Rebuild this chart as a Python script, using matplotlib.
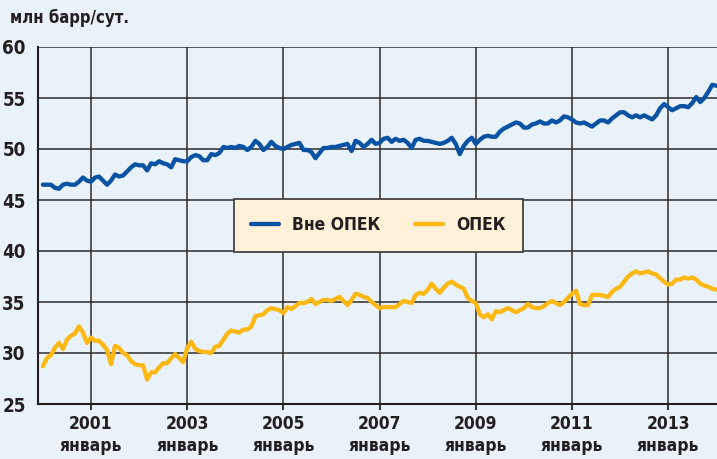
import numpy as np
import matplotlib
matplotlib.use("Agg")
import matplotlib.pyplot as plt

# monthly data, Jan 2000 .. Jan 2014, mln bbl/day
non_opec = [
    46.5, 46.5, 46.5, 46.2, 46.1, 46.5, 46.6, 46.5, 46.5, 46.8, 47.2, 46.9,
    46.8, 47.2, 47.3, 46.9, 46.5, 46.9, 47.5, 47.3, 47.4, 47.8, 48.2, 48.5,
    48.4, 48.4, 47.9, 48.6, 48.5, 48.8, 48.6, 48.5, 48.2, 49.0, 48.9, 48.8,
    48.8, 49.2, 49.4, 49.3, 48.9, 48.9, 49.5, 49.4, 49.6, 50.2, 50.1, 50.2,
    50.1, 50.3, 50.2, 49.9, 50.2, 50.8, 50.5, 49.9, 50.2, 50.7, 50.3, 50.1,
    50.0, 50.2, 50.4, 50.5, 50.6, 49.9, 49.9, 49.7, 49.1, 49.6, 50.1, 50.1,
    50.2, 50.2, 50.3, 50.4, 50.5, 49.8, 50.8, 50.6, 50.2, 50.5, 50.9, 50.5,
    50.6, 51.0, 51.1, 50.7, 51.0, 50.8, 50.9, 50.6, 50.1, 50.9, 51.0, 50.8,
    50.8, 50.7, 50.6, 50.5, 50.6, 50.8, 51.1, 50.5, 49.5, 50.3, 50.8, 51.1,
    50.5, 50.9, 51.2, 51.3, 51.2, 51.2, 51.7, 52.0, 52.2, 52.4, 52.6, 52.5,
    52.1, 52.1, 52.4, 52.5, 52.7, 52.5, 52.5, 52.8, 52.6, 52.8, 53.2, 53.1,
    52.9, 52.6, 52.5, 52.6, 52.4, 52.2, 52.5, 52.8, 52.8, 52.6, 53.0, 53.3,
    53.6, 53.6, 53.3, 53.1, 53.3, 53.1, 53.3, 53.1, 52.9, 53.3, 54.0, 54.4,
    54.1, 53.8, 54.0, 54.2, 54.2, 54.1, 54.5, 55.1, 54.6, 55.0, 55.6, 56.3,
    56.2,
]
opec = [
    28.7, 29.5, 29.8, 30.5, 31.0, 30.4, 31.3, 31.7, 31.9, 32.6, 32.0, 31.0,
    31.5, 31.2, 31.2, 30.8, 30.3, 28.9, 30.7, 30.5, 30.0, 29.8, 29.2, 28.9,
    28.8, 28.8, 27.4, 28.1, 28.1, 28.6, 29.0, 29.0, 29.5, 29.9, 29.5, 29.1,
    30.5, 31.1, 30.4, 30.2, 30.1, 30.1, 30.0, 30.6, 30.7, 31.3, 31.9, 32.2,
    32.1, 32.0, 32.3, 32.3, 32.6, 33.6, 33.7, 33.8, 34.2, 34.4, 34.3, 34.2,
    33.9, 34.5, 34.3, 34.6, 34.9, 34.9, 35.0, 35.3, 34.8, 35.0, 35.2, 35.2,
    35.1, 35.3, 35.5, 35.1, 34.7, 35.2, 35.8, 35.7, 35.5, 35.4, 35.0, 34.7,
    34.4, 34.5, 34.5, 34.5, 34.5, 34.8, 35.1, 35.0, 34.9, 35.7, 35.9, 35.8,
    36.2, 36.8, 36.3, 35.9, 36.4, 36.8, 37.0, 36.7, 36.5, 36.3, 35.4, 35.1,
    34.9, 33.8, 33.5, 33.8, 33.3, 34.1, 34.0, 34.2, 34.4, 34.2, 34.0, 34.2,
    34.4, 34.8, 34.5, 34.4, 34.4, 34.6, 34.9, 35.1, 34.9, 34.7, 35.0, 35.4,
    35.8, 36.1, 34.8, 34.7, 34.7, 35.7, 35.7, 35.7, 35.6, 35.5, 36.0, 36.3,
    36.5, 37.0, 37.5, 37.8, 38.0, 37.8, 37.9, 38.0, 37.8, 37.7, 37.3, 37.0,
    36.7, 36.8, 37.2, 37.2, 37.4, 37.3, 37.4, 37.2, 36.8, 36.6, 36.5, 36.3,
    36.2,
]
tick_years = [2001, 2003, 2005, 2007, 2009, 2011, 2013]
y_ticks = [25, 30, 35, 40, 45, 50, 55, 60]

t = 2000 + np.arange(len(non_opec)) / 12.0

bg = "#e9f1f9"
ink = "#231f20"
blue = "#0a52a3"
orange = "#fdb813"
fnt = dict(family="DejaVu Sans", stretch="condensed", weight="bold")

fig = plt.figure(figsize=(7.17, 4.59), dpi=100, facecolor=bg)
ax = fig.add_axes([38 / 717, 1 - 404 / 459, 1 - 38 / 717, (404 - 47) / 459])
ax.set_facecolor(bg)

ax.plot(t, non_opec, color=blue, lw=3.1, solid_capstyle="round", label="Вне ОПЕК", zorder=3)
ax.plot(t, opec, color=orange, lw=3.1, solid_capstyle="round", label="ОПЕК", zorder=3)

ax.set_xlim(1999.898, 2014.015)
ax.set_ylim(25, 60)
ax.set_xticks(tick_years)
ax.set_xticklabels([f"{y}\nянварь" for y in tick_years], color=ink, fontsize=12.5, linespacing=1.3, **fnt)
ax.set_yticks(y_ticks)
ax.set_yticklabels([str(v) for v in y_ticks], color=ink, fontsize=13.5, **fnt)
ax.tick_params(axis="x", length=4, width=1.3, color=ink, pad=4)
ax.tick_params(axis="y", length=0, pad=9)
ax.grid(True, color="#2b2b2b", lw=1.1, zorder=1)
for s in ["top", "right"]:
    ax.spines[s].set_visible(False)
for s in ["left", "bottom"]:
    ax.spines[s].set_color(ink)
    ax.spines[s].set_linewidth(1.5)

fig.text(10 / 717, 1 - 18 / 459, "млн барр/сут.", color=ink, fontsize=12, va="center", ha="left", **fnt)

leg = ax.legend(loc="center", bbox_to_anchor=(378.5 / 717, 1 - 225.5 / 459), bbox_transform=fig.transFigure,
                ncol=2, frameon=True, fancybox=False, handlelength=1.6, handletextpad=0.75,
                columnspacing=2.0, borderpad=1.0, prop=dict(size=12.5, **fnt))
frame = leg.get_frame()
frame.set_facecolor("#fff0d8")
frame.set_edgecolor("#444444")
frame.set_linewidth(1.3)
frame.set_alpha(1)
for txt in leg.get_texts():
    txt.set_color(ink)

fig.savefig("out.png", dpi=100, facecolor=bg)
